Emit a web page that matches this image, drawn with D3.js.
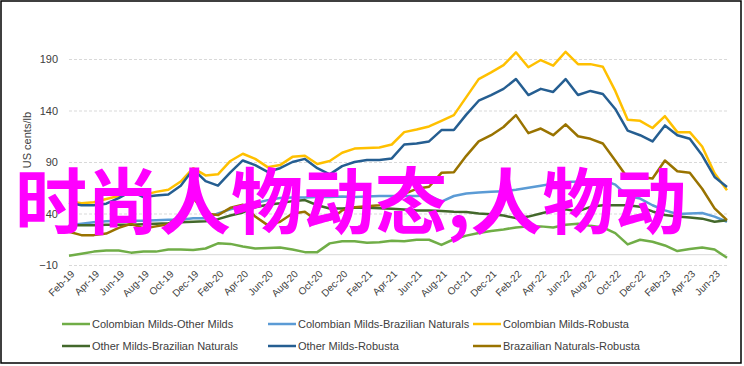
<!DOCTYPE html>
<html>
<head>
<meta charset="utf-8">
<script src="https://cdn.jsdelivr.net/npm/d3@7/dist/d3.min.js"></script>
<style>
  body { margin: 0; background: #fff; }
  text { font-family: "Liberation Sans Narrow", "Liberation Sans", Arial, sans-serif; }
</style>
</head>
<body>
<script>
// monthly categories, Feb-19 .. Jul-23
const months = ["Feb-19","Mar-19","Apr-19","May-19","Jun-19","Jul-19","Aug-19","Sep-19","Oct-19","Nov-19","Dec-19","Jan-20",
  "Feb-20","Mar-20","Apr-20","May-20","Jun-20","Jul-20","Aug-20","Sep-20","Oct-20","Nov-20","Dec-20","Jan-21",
  "Feb-21","Mar-21","Apr-21","May-21","Jun-21","Jul-21","Aug-21","Sep-21","Oct-21","Nov-21","Dec-21","Jan-22",
  "Feb-22","Mar-22","Apr-22","May-22","Jun-22","Jul-22","Aug-22","Sep-22","Oct-22","Nov-22","Dec-22","Jan-23",
  "Feb-23","Mar-23","Apr-23","May-23","Jun-23","Jul-23"];

const tickLabels = ["Feb-19","Apr-19","Jun-19","Aug-19","Oct-19","Dec-19","Feb-20","Apr-20","Jun-20","Aug-20",
  "Oct-20","Dec-20","Feb-21","Apr-21","Jun-21","Aug-21","Oct-21","Dec-21","Feb-22","Apr-22","Jun-22","Aug-22",
  "Oct-22","Dec-22","Feb-23","Apr-23","Jun-23"];

const yTicks = [-10, 40, 90, 140, 190];

// differentials, US cents/lb
const colOther = [-1,1,3,4,4,2,3,3,5,5,4.5,6,11,10.5,8,6,6.5,7,5,2.5,2.5,11,13,13,11.5,12,13.5,13,14.5,14.5,
  9.5,15,18.5,21,23,24.5,26.5,27.5,27.5,26.5,29,30,28,26.5,21,10,14.5,12.5,9,3.5,5.5,7,5,-3];
const colBraz = [28.5,30,31.5,32.5,33,33,33,33.5,34,34,35.5,35.5,40,44,47,50,53,55,55.5,55.5,56,56,56.5,56,56.5,57,
  57,57,57,57.5,51.5,57,59.5,60.5,61,61.5,63,65,67,69,70.5,71,72.5,72.5,68,57,54.5,48,43,39.5,40,40.5,37,32];
const colRob = [52,50,51,54,57,63,58,61,63,71,84,77,78,91,98,93,85,87,95,96,88,91,99,103,103.5,104,107,119,121.5,
  124.5,130,135.5,153,170.5,177,184,196.5,182,189,183.5,197,185,185,182.5,159,131,130,123,134.5,119,119,105,79,62.5];
const othBraz = [28.7,28.7,28.7,29,29,29,29.5,30,30.5,31.5,32,32.5,34.5,38,41,46,48.5,50,52,53,48,44.8,44.8,45.5,
  45.5,45,44.5,44,43,42.8,42.5,41.8,41.5,40,39.2,38,35.5,37,40,43,44,42,46.5,48,48,48,46.5,42,38.5,37,36,35,32,33.5];
const othRob = [50.5,48,48,49.5,55,61.5,56,57.5,58.5,67,83,71.5,67,80,91.5,87,80.5,84,90,93,84,78,86,90,92,92,93.5,
  107,108,110,121,121,136,149.5,155,161,170.5,155,161,158,170.5,155,159,156,141.5,120.5,116,110,125.5,116,112.5,96.5,75.5,65.8];
const brazRob = [22.3,19,19,20.5,26,30,25.5,27.5,29.5,38.5,55,40,38.5,45.5,48.5,37,28.7,32,40,41.6,32.5,34,43,46,47,
  48,49.7,59,64,66,79.5,80,96,110,116,124,135.5,118,122.5,116,126.5,115,112.5,108,91.5,74.5,75.5,74,91.5,81,79.5,64,45,33.5];

const seriesNames = ["Colombian Milds-Other Milds","Colombian Milds-Brazilian Naturals","Colombian Milds-Robusta",
  "Other Milds-Brazilian Naturals","Other Milds-Robusta","Brazailian Naturals-Robusta"];
const seriesColors = ["#70ad47","#5b9bd5","#ffc000","#43682b","#255e91","#997300"];
const seriesValues = [colOther, colBraz, colRob, othBraz, othRob, brazRob];

const W = 744, H = 366;
const plotL = 69, plotR = 727, plotT = 59, plotB = 265;

const svg = d3.select("body").append("svg").attr("width", W).attr("height", H);

svg.append("rect").attr("x", 1).attr("y", 1).attr("width", 740).attr("height", 362)
  .attr("fill", "#fff").attr("stroke", "#000").attr("stroke-width", 1.5);

const x = d3.scalePoint().domain(months).range([plotL, plotR]);
const y = d3.scaleLinear().domain([-10, 190]).range([plotB, plotT]);

// y grid + labels
const yAxis = svg.append("g").attr("transform", `translate(${plotL},0)`)
  .call(d3.axisLeft(y).tickValues(yTicks).tickSize(-(plotR - plotL)).tickPadding(11));
yAxis.select(".domain").remove();
yAxis.selectAll("line").attr("stroke", "#d9d9d9").attr("stroke-dasharray", "3,2");
yAxis.selectAll("text").attr("fill", "#404040").style("font-size", "11px");

// zero line
svg.append("line").attr("x1", plotL).attr("x2", plotR).attr("y1", y(0)).attr("y2", y(0))
  .attr("stroke", "#d9d9d9").attr("stroke-width", 1);

// x labels
const xAxis = svg.append("g").attr("transform", `translate(0,${plotB + 4})`)
  .call(d3.axisBottom(x).tickValues(tickLabels).tickSize(0).tickPadding(0));
xAxis.select(".domain").remove();
xAxis.selectAll("text")
  .attr("fill", "#404040").style("font-size", "10px")
  .attr("text-anchor", "end").attr("dy", "0.6em").attr("y", 2)
  .attr("transform", "rotate(-45)");

// axis title
svg.append("text").attr("transform", "translate(31,112) rotate(-90)")
  .attr("text-anchor", "end").attr("fill", "#404040").style("font-size", "11px")
  .text("US cents/lb");

// lines
const line = d3.line().x((d, i) => x(months[i])).y(d => y(d));
seriesValues.forEach((vals, k) => {
  svg.append("path").datum(vals).attr("d", line)
    .attr("fill", "none").attr("stroke", seriesColors[k]).attr("stroke-width", 2.5)
    .attr("stroke-linejoin", "round");
});

// legend
const colX = [62, 268, 473], rowY = [324, 346];
seriesNames.forEach((name, k) => {
  const gx = colX[k % 3], gy = rowY[Math.floor(k / 3)];
  svg.append("line").attr("x1", gx).attr("x2", gx + 28).attr("y1", gy).attr("y2", gy)
    .attr("stroke", seriesColors[k]).attr("stroke-width", 2.5);
  svg.append("text").attr("x", gx + 30).attr("y", gy).attr("dy", "0.35em")
    .attr("fill", "#404040").style("font-size", "11px").text(name);
});

// overlay text
svg.append("text").attr("x", 15).attr("y", 228)
  .attr("fill", "#ff00ff").style("font-family", "'Noto Sans CJK SC', sans-serif")
  .style("font-weight", "bold").style("font-size", "72px")
  .text("时尚人物动态,人物动");
</script>
</body>
</html>
